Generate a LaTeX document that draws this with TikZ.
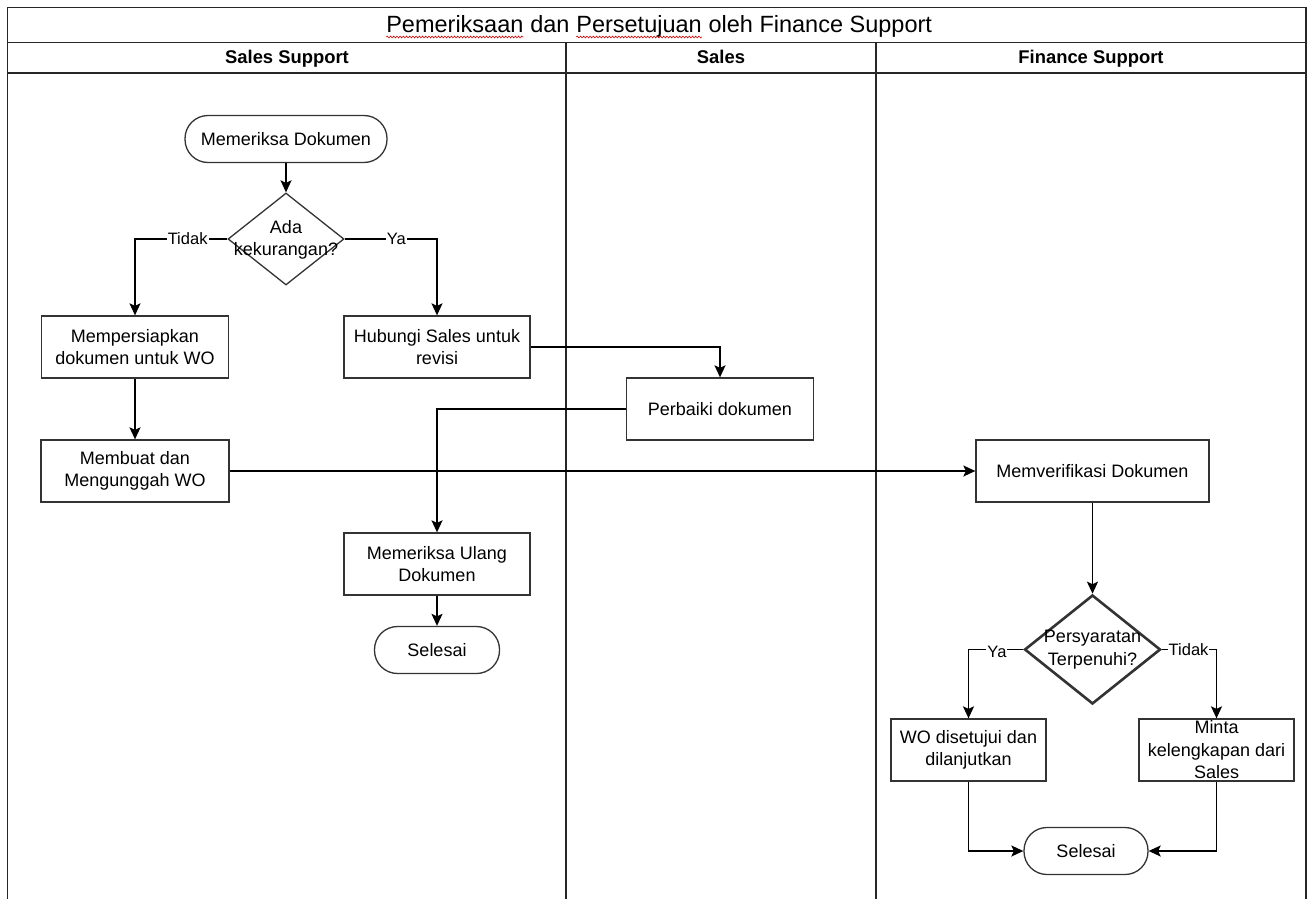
\documentclass[tikz,border=0pt]{standalone}
\usepackage{fontspec}
\setmainfont{Liberation Sans}
\usetikzlibrary{arrows.meta,shapes.geometric,decorations.pathmorphing}

\newcommand\flowfont{\fontsize{18}{22.5}\selectfont}
\newcommand\labfont{\fontsize{16.5}{19}\selectfont}
\newcommand\lanefont{\fontsize{18.4}{22}\selectfont\bfseries}
\newcommand\captionfont{\fontsize{23.5}{28}\selectfont}

% word with a red wavy spell-check underline
\newcommand\spellmark[1]{\tikz[baseline=(sw.base)]{%
  \node[inner sep=0pt,outer sep=0pt] (sw) {#1};
  \draw[red!80!black,line width=0.6pt,decorate,
        decoration={snake,amplitude=0.9pt,segment length=3.2pt}]
    ([yshift=-4pt]sw.base west) -- ([yshift=-4pt]sw.base east);}}

\tikzset{
  lane/.style={line width=1.3pt,draw=black!85},
  proc/.style={draw=black!80,line width=1.3pt,rectangle,minimum width=#1,
    minimum height=62pt,inner sep=0pt,align=center,font=\flowfont},
  proc/.default=187pt,
  term/.style={draw=black!80,line width=1.3pt,rectangle,rounded corners=23pt,
    minimum width=#1,minimum height=47pt,inner sep=0pt,align=center,font=\flowfont},
  decbox/.style={draw=black!80,diamond,line width=1.3pt,inner sep=0pt},
  dectext/.style={align=center,font=\flowfont,inner sep=0pt},
  flow/.style={draw=black,line width=1.6pt,-{Stealth[length=12pt,width=11pt,inset=2.5pt]}},
  lbl/.style={fill=white,inner sep=1pt,font=\labfont},
  head/.style={font=\lanefont,anchor=base},
}

\begin{document}
\begin{tikzpicture}[x=1pt,y=-1pt]
\useasboundingbox (0,0) rectangle (1309,899);
\fill[white] (0,0) rectangle (1309,899);

% pool frame and lanes
\draw[lane] (7.5,899) -- (7.5,7.5) -- (1306,7.5) -- (1306,899);
\draw[lane] (7.5,42.5) -- (1306,42.5);
\draw[lane] (7.5,73) -- (1306,73);
\draw[lane] (566,42.5) -- (566,899);
\draw[lane] (876,42.5) -- (876,899);

% titles
\node[font=\captionfont,anchor=base,inner sep=0pt] (title) at (659,33)
  {\spellmark{Pemeriksaan} dan \spellmark{Persetujuan} oleh Finance Support};
\node[head] (h1) at (287,63.5) {Sales Support};
\node[head] (h2) at (721,63.5) {Sales};
\node[head] (h3) at (1091,63.5) {Finance Support};

% Sales Support lane
\node[term=202pt] (start) at (286,139) {Memeriksa Dokumen};
\node[decbox,minimum width=116pt,minimum height=92pt] (d1) at (286,239) {};
\node[dectext] (d1t) at (286,240) {Ada\\kekurangan?};
\node[proc] (prep) at (135,347) {Mempersiapkan\\dokumen untuk WO};
\node[proc=186pt] (hub) at (437,347) {Hubungi Sales untuk\\revisi};
\node[proc=188pt] (make) at (135,471) {Membuat dan\\Mengunggah WO};
\node[proc=186pt] (recheck) at (437,564) {Memeriksa Ulang\\Dokumen};
\node[term=125pt] (end1) at (437,650) {Selesai};

% Sales lane
\node[proc] (fix) at (720,409) {Perbaiki dokumen};

% Finance Support lane
\node[proc=233pt] (verify) at (1092.5,471) {Memverifikasi Dokumen};
\node[decbox,line width=2.6pt,minimum width=136pt,minimum height=109pt] (d2) at (1092.5,649.5) {};
\node[dectext] (d2t) at (1092.5,649.5) {Persyaratan\\Terpenuhi?};
\node[proc=155pt] (ok) at (968.5,750) {WO disetujui dan\\dilanjutkan};
\node[proc=155pt] (ask) at (1216.5,750) {Minta\\kelengkapan dari\\Sales};
\node[term=124pt] (end2) at (1086,851) {Selesai};

% connectors
\draw[flow] (start) -- (d1);
\draw[flow] (d1.west) -| node[lbl,pos=0.215] (l1) {Tidak} (prep.north);
\draw[flow] (d1.east) -| node[lbl,pos=0.28] (l2) {Ya} (hub.north);
\draw[flow] (prep) -- (make);
\draw[flow] (hub.east) -| (fix.north);
\draw[flow] (fix.west) -| (recheck.north);
\draw[flow] (recheck) -- (end1);
\draw[flow] (make.east) -- (verify.west);
\draw[flow] (verify) -- (d2);
\draw[flow] (d2.west) -| node[lbl,pos=0.24,yshift=-2pt] (l3) {Ya} (ok.north);
\draw[flow] (d2.east) -| node[lbl,pos=0.245] (l4) {Tidak} (ask.north);
\draw[flow] (ok.south) |- (end2.west);
\draw[flow] (ask.south) |- (end2.east);
\end{tikzpicture}
\end{document}
